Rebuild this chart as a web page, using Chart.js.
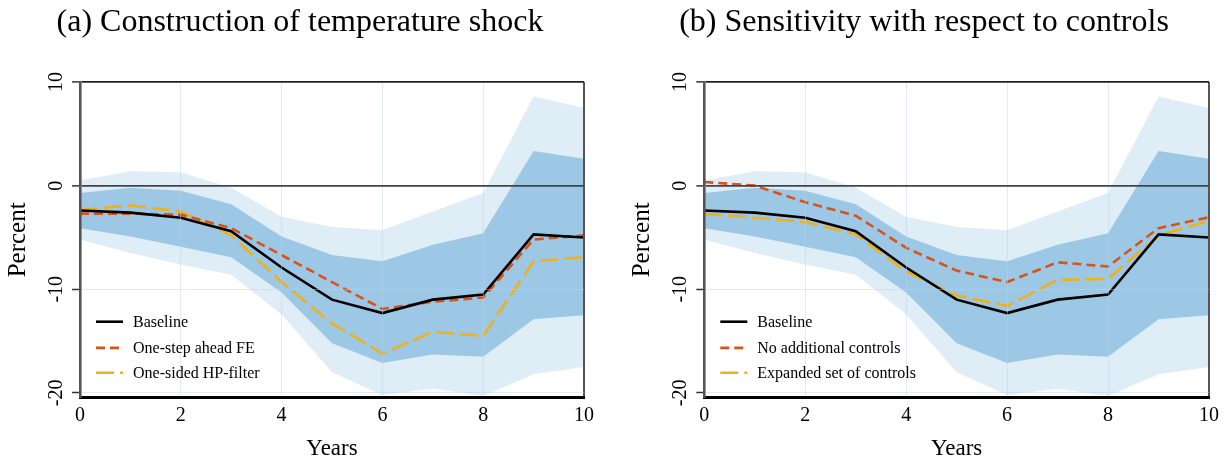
<!DOCTYPE html>
<html><head><meta charset="utf-8">
<script src="https://cdn.jsdelivr.net/npm/chart.js@4.4.1/dist/chart.umd.min.js"></script>
<style>
html,body{margin:0;padding:0;background:#fff;}
#wrap{position:relative;width:1225px;height:465px;overflow:hidden;background:#fff;}
.box{position:absolute;top:0;height:465px;}
#boxA{left:0;width:600px;}
#boxB{left:624px;width:601px;}
</style></head><body>
<div id="wrap">
  <div class="box" id="boxA"><canvas id="cA"></canvas></div>
  <div class="box" id="boxB"><canvas id="cB"></canvas></div>
</div>
<script>
// ---- data ----
const years = [0, 1, 2, 3, 4, 5, 6, 7, 8, 9, 10];
const yTickValues = [-20, -10, 0, 10];
const baseline   = [-2.4, -2.6, -3.1, -4.4, -7.9, -11.0, -12.3, -11.0, -10.5, -4.7, -5.0];
const outerUpper = [0.5, 1.4, 1.3, -0.2, -3.0, -4.0, -4.3, -2.5, -0.7, 8.6, 7.5];
const innerUpper = [-0.7, -0.2, -0.5, -1.8, -4.9, -6.7, -7.3, -5.7, -4.6, 3.35, 2.6];
const innerLower = [-4.1, -4.9, -5.9, -6.9, -10.3, -15.2, -17.1, -16.3, -16.5, -12.9, -12.5];
const outerLower = [-5.2, -6.5, -7.6, -8.6, -12.4, -18.0, -20.2, -19.6, -20.3, -18.2, -17.5];
const oneStepFE  = [-2.7, -2.7, -2.8, -4.1, -6.7, -9.3, -11.9, -11.2, -10.8, -5.2, -4.8];
const hpFilter   = [-2.35, -1.9, -2.5, -4.8, -9.3, -13.3, -16.2, -14.1, -14.5, -7.3, -6.9];
const noControls = [0.35, 0.0, -1.6, -2.9, -6.0, -8.2, -9.3, -7.4, -7.8, -4.1, -3.05];
const expandedControls = [-2.7, -3.1, -3.5, -4.7, -8.3, -10.6, -11.6, -9.1, -9.0, -4.8, -3.4];

const titleA = '(a) Construction of temperature shock';
const titleB = '(b) Sensitivity with respect to controls';
const labelsA = ['Baseline', 'One-step ahead FE', 'One-sided HP-filter'];
const labelsB = ['Baseline', 'No additional controls', 'Expanded set of controls'];

// ---- styling ----
const FONT = "'Liberation Serif', 'Times New Roman', serif";
const RED = '#D95319', YEL = '#EDB120', BLK = '#000000';
const INNER = '#9DC8E5', OUTER = '#DFEDF7';
const FAINT = 'rgba(185,212,226,0.45)';

const pts = arr => years.map((x, i) => ({x, y: arr[i]}));

const decor = {
  id: 'decor',
  afterDraw(chart) {
    const ctx = chart.ctx, ys = chart.scales.y, a = chart.chartArea;
    ctx.save();
    // rotated y tick labels
    ctx.fillStyle = '#000';
    ctx.font = '20px ' + FONT;
    ctx.textAlign = 'center';
    ctx.textBaseline = 'alphabetic';
    ys.ticks.forEach(t => {
      const py = ys.getPixelForValue(t.value);
      ctx.save();
      ctx.translate(a.left - 18, py);
      ctx.rotate(-Math.PI / 2);
      ctx.fillText(t.label, 0, 0);
      ctx.restore();
    });
    // legend inside plot (bottom-left)
    const rowsFromBottom = [76, 49.8, 25];
    ctx.font = '16px ' + FONT;
    ctx.textAlign = 'left';
    ctx.textBaseline = 'middle';
    for (let i = 0; i < 3; i++) {
      const ds = chart.data.datasets[i];
      const y = a.bottom - rowsFromBottom[i];
      ctx.beginPath();
      ctx.setLineDash(ds.borderDash || []);
      ctx.lineDashOffset = 0;
      ctx.strokeStyle = ds.borderColor;
      ctx.lineWidth = ds.borderWidth;
      ctx.moveTo(a.left + 16, y);
      ctx.lineTo(a.left + 43, y);
      ctx.stroke();
      ctx.setLineDash([]);
      ctx.fillStyle = '#000';
      ctx.fillText(ds.label, a.left + 53, y + 1);
    }
    ctx.restore();
  }
};

function makeChart(canvasId, title, s2, s3, labels, leftPad, rightPad, yWidth) {
  return new Chart(document.getElementById(canvasId), {
    type: 'line',
    data: {
      datasets: [
        {label: labels[0], data: pts(baseline), borderColor: BLK, borderWidth: 2.6, pointRadius: 0, tension: 0, fill: false},
        {label: labels[1], data: pts(s2), borderColor: RED, borderWidth: 2.6, borderDash: [9, 5], pointRadius: 0, tension: 0, fill: false},
        {label: labels[2], data: pts(s3), borderColor: YEL, borderWidth: 2.6, borderDash: [18, 6], pointRadius: 0, tension: 0, fill: false},
        {label: 'inner upper', data: pts(innerUpper), borderColor: 'rgba(0,0,0,0)', borderWidth: 0, backgroundColor: INNER, fill: '+1', pointRadius: 0, tension: 0},
        {label: 'inner lower', data: pts(innerLower), borderColor: 'rgba(0,0,0,0)', borderWidth: 0, fill: false, pointRadius: 0, tension: 0},
        {label: 'outer upper', data: pts(outerUpper), borderColor: 'rgba(0,0,0,0)', borderWidth: 0, backgroundColor: OUTER, fill: '+1', pointRadius: 0, tension: 0},
        {label: 'outer lower', data: pts(outerLower), borderColor: 'rgba(0,0,0,0)', borderWidth: 0, fill: false, pointRadius: 0, tension: 0}
      ]
    },
    options: {
      responsive: true,
      maintainAspectRatio: false,
      animation: false,
      events: [],
      layout: {padding: {left: leftPad, right: rightPad, top: 0, bottom: 0}},
      plugins: {
        legend: {display: false},
        tooltip: {enabled: false},
        title: {
          display: true, text: title, color: '#000',
          font: {family: FONT, size: 32, weight: 'normal'},
          padding: {top: 3.5, bottom: 40.1}
        }
      },
      scales: {
        x: {
          type: 'linear', min: 0, max: 10,
          ticks: {stepSize: 2, color: '#000', font: {family: FONT, size: 20}, padding: 6, maxRotation: 0},
          grid: {
            z: 1,
            drawTicks: false,
            color: c => c.tick.value === 0 ? 'rgba(0,0,0,0)' : (c.tick.value === 10 ? '#555' : FAINT),
            lineWidth: c => c.tick.value === 10 ? 2 : 1
          },
          border: {color: '#000', width: 3, z: 2},
          title: {display: true, text: 'Years', color: '#000', font: {family: FONT, size: 23}, padding: {top: 0, bottom: 2}},
          afterFit: s => { s.height = 67.3; }
        },
        y: {
          type: 'linear', min: -20.46, max: 10,
          afterBuildTicks: s => { s.ticks = yTickValues.map(v => ({value: v})); },
          ticks: {display: false},
          grid: {
            z: 1,
            drawTicks: true, tickLength: 8, tickColor: '#333', tickWidth: 1.5,
            color: c => c.tick.value === 10 ? '#222' : (c.tick.value === 0 ? '#444' : FAINT),
            lineWidth: c => (c.tick.value === 10 || c.tick.value === 0) ? 1.8 : 1
          },
          border: {color: '#555', width: 2.6, z: 2},
          title: {display: true, text: 'Percent', color: '#000', font: {family: FONT, size: 25}, padding: {top: 3 - leftPad, bottom: 0}},
          afterFit: s => { s.width = yWidth; }
        }
      }
    },
    plugins: [decor]
  });
}

makeChart('cA', titleA, oneStepFE, hpFilter, labelsA, 12.5, 12.5, 67.5);
makeChart('cB', titleB, noControls, expandedControls, labelsB, 13, 14, 67.3);
</script>
</body></html>
